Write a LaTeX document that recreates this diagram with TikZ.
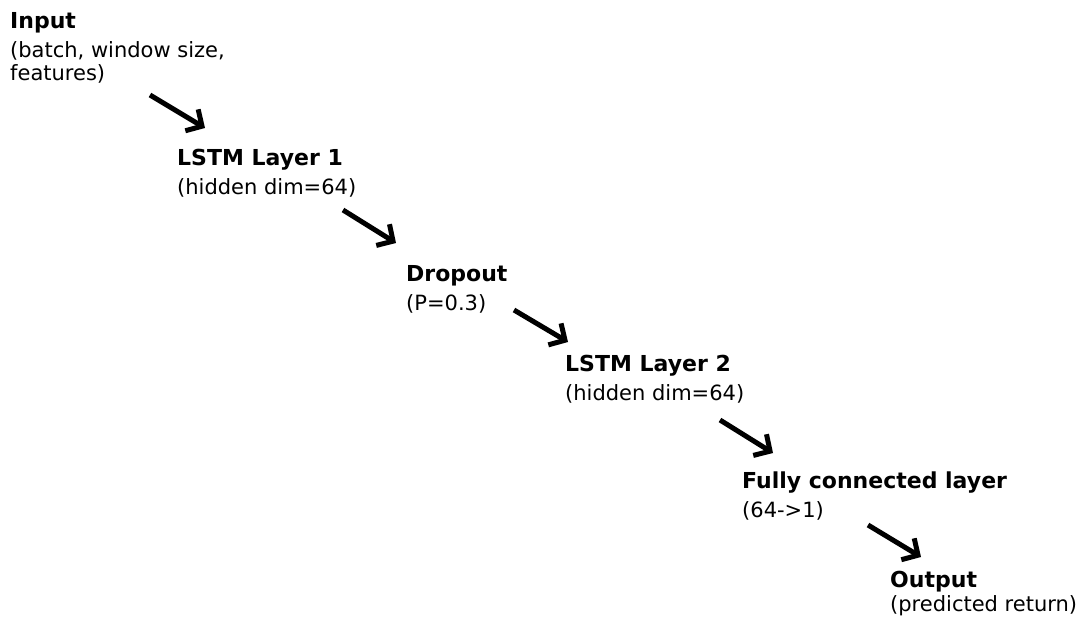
\documentclass[tikz,border=0pt]{standalone}
\usepackage{fontspec}
\setmainfont{DejaVu Sans}
\usetikzlibrary{arrows.meta}
\tikzset{
  blk/.style={anchor=north west, inner sep=0pt, align=left, font=\fontsize{21}{23}\selectfont},
  arr/.style={line width=5pt, -{Straight Barb[length=12pt, width=25pt]}}
}
\newcommand{\ttl}[2][6pt]{{\fontsize{22}{24}\selectfont\bfseries #2}\\[#1]}
\begin{document}
\begin{tikzpicture}[x=1pt,y=-1pt]
\useasboundingbox (0,0) rectangle (1084,617);
\node[blk] (input) at (10,12) {\ttl{Input}(batch, window size,\\features)};
\node[blk] (lstm1) at (177,149) {\ttl{LSTM Layer 1}(hidden dim=64)};
\node[blk] (drop) at (406,265) {\ttl{Dropout}(P=0.3)};
\node[blk] (lstm2) at (565,355) {\ttl{LSTM Layer 2}(hidden dim=64)};
\node[blk] (fc) at (742,472) {\ttl{Fully connected layer}(64->1)};
\node[blk] (out) at (890,571) {\ttl[1pt]{Output}(predicted return)};
\draw[arr] ([shift={(140,83)}]input.north west) -- ([shift={(28,-21)}]lstm1.north west);
\draw[arr] ([shift={(166,61)}]lstm1.north west) -- ([shift={(-10,-22)}]drop.north west);
\draw[arr] ([shift={(108,45)}]drop.north west) -- ([shift={(3,-13)}]lstm2.north west);
\draw[arr] ([shift={(155,65)}]lstm2.north west) -- ([shift={(31,-19)}]fc.north west);
\draw[arr] ([shift={(126,53)}]fc.north west) -- ([shift={(31,-14)}]out.north west);
\end{tikzpicture}
\end{document}
